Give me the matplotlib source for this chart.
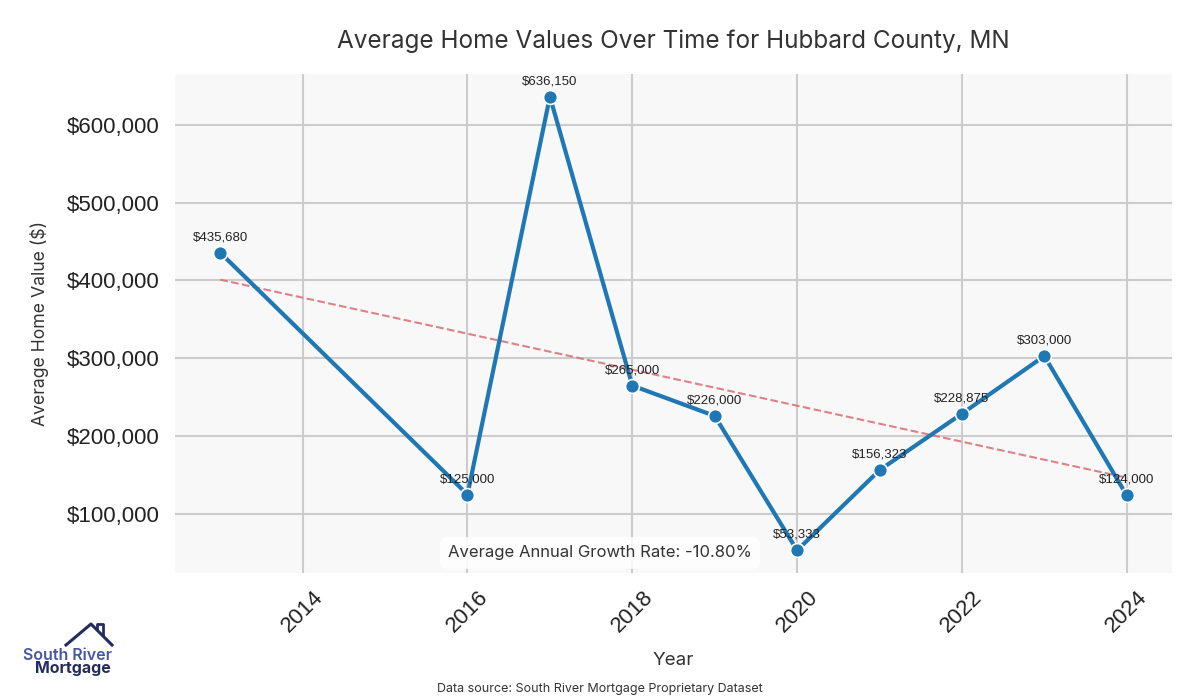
import numpy as np
import matplotlib
matplotlib.use("Agg")
import matplotlib.pyplot as plt
from matplotlib.ticker import FuncFormatter
from matplotlib.lines import Line2D

years = [2013, 2016, 2017, 2018, 2019, 2020, 2021, 2022, 2023, 2024]
values = [435680, 125000, 636150, 265000, 226000, 53333, 156323, 228875, 303000, 124000]
x_ticks = [2014, 2016, 2018, 2020, 2022, 2024]

title_font = "Inter"
num_font = "Liberation Sans"

fig = plt.figure(figsize=(12, 7), dpi=100)
ax = fig.add_axes([0.1458, 0.1814, 0.8309, 0.7129])
ax.set_facecolor("#f8f8f8")
for s in ax.spines.values():
    s.set_visible(False)
ax.grid(True, color="#cccccc", linewidth=1.5)
ax.set_axisbelow(True)

ax.plot(years, values, color="#1f77b4", linewidth=3, marker="o", markersize=10,
        markeredgecolor="white", markeredgewidth=1.2, zorder=3)

# linear trend
coef = np.polyfit(years, values, 1)
trend = np.polyval(coef, years)
ax.plot(years, trend, linestyle="--", color="#d9757a", linewidth=1.5, alpha=0.9, zorder=2)

for x, y in zip(years, values):
    ax.annotate(f"${y:,.0f}", (x, y), textcoords="offset points", xytext=(0, 9),
                ha="center", fontsize=9.5, family=num_font, color="#222222", zorder=4)

ax.set_xticks(x_ticks)
ax.yaxis.set_major_formatter(FuncFormatter(lambda v, p: f"${v:,.0f}"))
ax.tick_params(axis="both", length=0, labelsize=16, colors="#222222")
ax.tick_params(axis="x", pad=10)
ax.tick_params(axis="y", pad=11)
for lab in ax.get_xticklabels() + ax.get_yticklabels():
    lab.set_family(num_font)
plt.setp(ax.get_xticklabels(), rotation=45)

ax.set_title("Average Home Values Over Time for Hubbard County, MN", fontsize=17.5,
             family=title_font, color="#333333", pad=19)
ax.set_xlabel("Year", fontsize=13.5, family=title_font, color="#333333", labelpad=11)
ax.set_ylabel("Average Home Value ($)", fontsize=12.7, family=title_font, color="#333333",
              labelpad=13)

growth = (values[-1] / values[0]) ** (1 / (years[-1] - years[0])) - 1
fig.text(0.5, 0.21, f"Average Annual Growth Rate: {growth * 100:.2f}%", ha="center", va="center",
         fontsize=12, family=title_font, color="#333333",
         bbox=dict(boxstyle="round,pad=0.5", facecolor="white", edgecolor="none", alpha=0.85))

fig.text(0.5, 0.012, "Data source: South River Mortgage Proprietary Dataset", ha="center",
         fontsize=9, family=title_font, color="#333333")

# logo
W, H = 1200, 700
def fp(px, py):
    return px / W, 1 - py / H
logo_col = "#232c5e"
roof = [fp(66, 645), fp(91, 624), fp(112, 645)]
fig.add_artist(Line2D([p[0] for p in roof], [p[1] for p in roof], color=logo_col,
                      linewidth=2.2, transform=fig.transFigure))
chim = [fp(97, 629), fp(97, 624), fp(103, 624), fp(103, 635)]
fig.add_artist(Line2D([p[0] for p in chim], [p[1] for p in chim], color=logo_col,
                      linewidth=2.0, transform=fig.transFigure))
fig.text(*fp(23, 655), "South River", fontsize=11.5, family="Inter", color="#4457a6",
         va="center", ha="left", fontweight="semibold")
fig.text(*fp(111, 669), "Mortgage", fontsize=11.5, family="Inter", color=logo_col,
         va="center", ha="right", fontweight="bold")

fig.savefig("out.png", dpi=100)
